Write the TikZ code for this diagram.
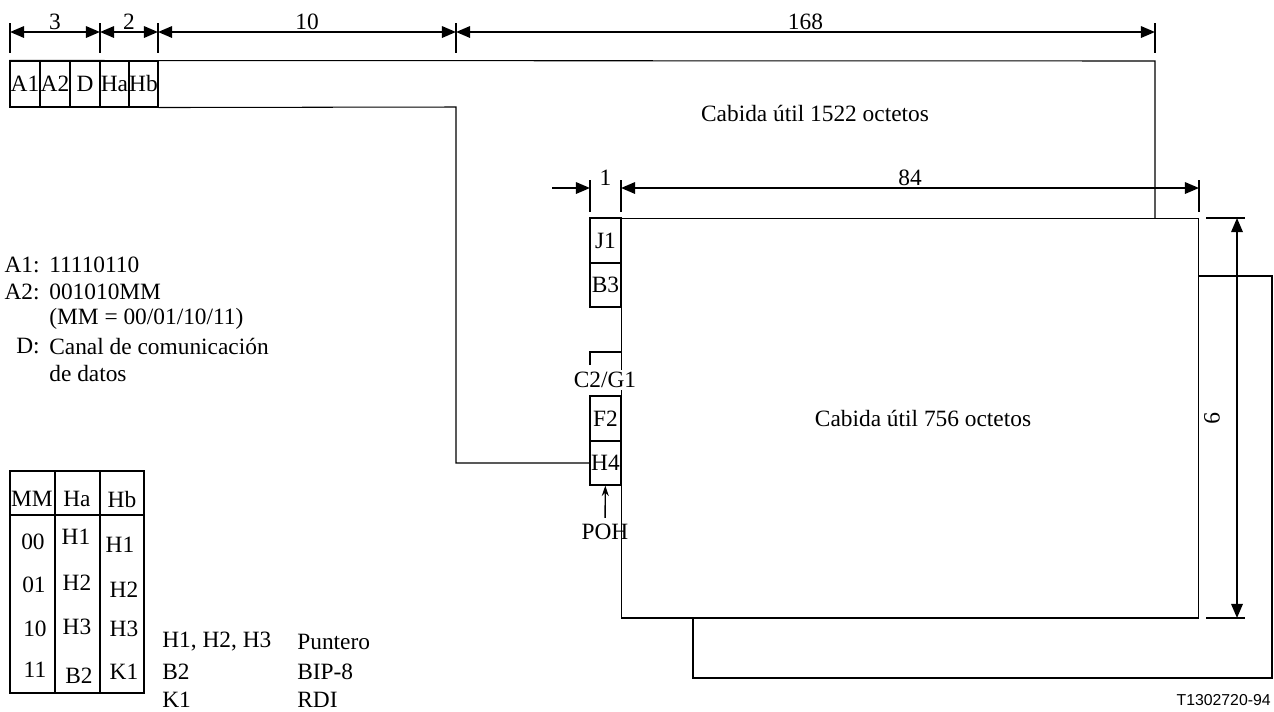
\documentclass[tikz,border=0pt]{standalone}
\usepackage{fontspec}
\setmainfont{Liberation Serif}
\newfontfamily\figfont{Liberation Sans}
\usetikzlibrary{arrows.meta}

\begin{document}
\begin{tikzpicture}[
    x=0.02cm, y=-0.02cm,
    every node/.style={font=\fontsize{13.3}{15}\selectfont},
    cell/.style={rectangle, draw, line width=0.6pt, inner sep=0pt, minimum width=0.6cm, minimum height=0.92cm},
    pohcell/.style={rectangle, draw, line width=0.6pt, inner sep=0pt, minimum width=0.62cm, minimum height=0.9cm},
    frame/.style={line width=0.6pt},
    divider/.style={line width=1pt},
    dimarrow/.style={<->, >={Triangle[length=8pt,width=6.5pt]}, line width=1.1pt},
    halfarrow/.style={->, >={Triangle[length=8pt,width=6.5pt]}, line width=1.1pt},
    tick/.style={line width=1.1pt},
    dimlabel/.style={above=1pt, inner sep=0pt},
    note/.style={anchor=west, inner sep=0pt},
    key/.style={anchor=east, inner sep=0pt},
    tabcell/.style={inner sep=0pt},
    arrow/.style={->, >={Stealth[length=6pt,width=4pt]}, line width=0.8pt}
]
\useasboundingbox (0,0) rectangle (1274,711);

% -------------------------
% Dimension lines (top)
% -------------------------
    \foreach \x/\n in {10/d0, 100/d1, 158/d2, 456/d3, 1155/d4} {
        \coordinate (\n) at (\x,32);
        \draw[tick] (\x,23) -- (\x,53);
    }
    \draw[dimarrow] (d0) -- node[dimlabel] {3} (d1);
    \draw[dimarrow] (d1) -- node[dimlabel] {2} (d2);
    \draw[dimarrow] (d2) -- node[dimlabel] {10} (d3);
    \draw[dimarrow] (d3) -- node[dimlabel] {168} (d4);

% -------------------------
% Frame header cells
% -------------------------
    \node[cell] (A1) at (25,84) {A1};
    \node[cell] (A2) at (55,84) {A2};
    \node[cell] (D) at (85,84) {D};
    \node[cell, minimum width=0.58cm] (Ha) at (114.5,84) {Ha};
    \node[cell, minimum width=0.58cm] (Hb) at (143.5,84) {Hb};

    \node (pay1522) at (815,113) {Cabida útil 1522 octetos};

% -------------------------
% Virtual container (back and front)
% -------------------------
    \draw[frame] (693,276) rectangle (1272,678);
    \node[draw, fill=white, line width=0.6pt, inner sep=0pt,
          minimum width=11.56cm, minimum height=8cm] (vc) at (910,418) {};
    \node (pay756) at (923,418) {Cabida útil 756 octetos};

% -------------------------
% POH column
% -------------------------
    \node[pohcell] (J1) at (605.5,240.5) {J1};
    \node[pohcell, minimum height=0.88cm] (B3) at (605.5,285) {B3};
    \node[pohcell] (F2) at (605.5,418.5) {F2};
    \node[pohcell, minimum height=0.88cm] (H4) at (605.5,463) {H4};
    \draw[divider] (J1.south west) -- (J1.south east);
    \draw[divider] (F2.north west) -- (F2.north east);
    \draw[divider] (F2.south west) -- (F2.south east);
    \draw[frame] (590,365) |- (621,352);
    \node[fill=white, inner sep=1pt] (C2G1) at (605,380) {C2/G1};
    \node (POH) at (605,532) {POH};
    \draw[arrow] (POH) -- (H4);

% -------------------------
% Frame outline and pointer to H4
% -------------------------
    \draw[frame] (A1.north west) -- (1155,61) -- (1155,218);
    \draw[frame] (Hb.south east) -- (456,107) |- (H4.west);

% -------------------------
% Dimension lines (container)
% -------------------------
    \foreach \x/\n in {590/h1, 621/h2, 1199/h3} {
        \coordinate (\n) at (\x,188);
        \draw[tick] (\x,180) -- (\x,212);
    }
    \coordinate (h0) at (552,188);
    \draw[halfarrow] (h0) -- (h1);
    \path (h1) -- node[dimlabel] {1} (h2);
    \draw[dimarrow] (h2) -- node[dimlabel] {84} (h3);

    \draw[tick] (1206,218) -- (1245,218);
    \draw[tick] (1206,618) -- (1245,618);
    \coordinate (v1) at (1237,218);
    \coordinate (v2) at (1237,618);
    \draw[dimarrow] (v1) -- (v2);
    \node[rotate=-90] (nine) at (1212,418) {9};

% -------------------------
% Notes
% -------------------------
    \node[key] (A1k) at (40,265) {A1:};
    \node[note] (A1v) at (49,265) {11110110};
    \node[key] (A2k) at (40,292) {A2:};
    \node[note] (A2v) at (49,292) {001010MM};
    \node[note] (MMv) at (49,319) {(MM = 00/01/10/11)};
    \node[key] (Dk) at (40,346) {D:};
    \node[note] (Dv) at (49,346) {Canal de comunicación};
    \node[note] (Dv2) at (49,373) {de datos};

% -------------------------
% MM table
% -------------------------
    \draw[frame] (10,471) rectangle (144,693);
    \draw[divider] (55,471) -- (55,693);
    \draw[divider] (100,471) -- (100,693);
    \draw[divider] (10,515) -- (144,515);

    \node[tabcell] (tmm) at (32,499) {MM};
    \node[tabcell] (tha) at (77,499) {Ha};
    \node[tabcell] (thb) at (122,499) {Hb};
    \node[tabcell] (tmm00) at (33,542) {00};
    \node[tabcell] (tha00) at (76,537) {H1};
    \node[tabcell] (thb00) at (120,545) {H1};
    \node[tabcell] (tmm01) at (34,585) {01};
    \node[tabcell] (tha01) at (77,583) {H2};
    \node[tabcell] (thb01) at (124,590) {H2};
    \node[tabcell] (tmm10) at (35,629) {10};
    \node[tabcell] (tha10) at (77,627) {H3};
    \node[tabcell] (thb10) at (124,629) {H3};
    \node[tabcell] (tmm11) at (35,670) {11};
    \node[tabcell] (tha11) at (79,676) {B2};
    \node[tabcell] (thb11) at (124,672) {K1};

% -------------------------
% Legend
% -------------------------
    \node[note] (lg1) at (162,642) {H1, H2, H3};
    \node[note] (lg2) at (162,672) {B2};
    \node[note] (lg3) at (162,700) {K1};
    \node[note] (lgp) at (297,642) {Puntero};
    \node[note] (lgb) at (297,672) {BIP-8};
    \node[note] (lgr) at (297,700) {RDI};

    \node[anchor=east, inner sep=0pt, font=\figfont\fontsize{9}{11}\selectfont] (figid) at (1271,700) {T1302720-94};
\end{tikzpicture}
\end{document}
